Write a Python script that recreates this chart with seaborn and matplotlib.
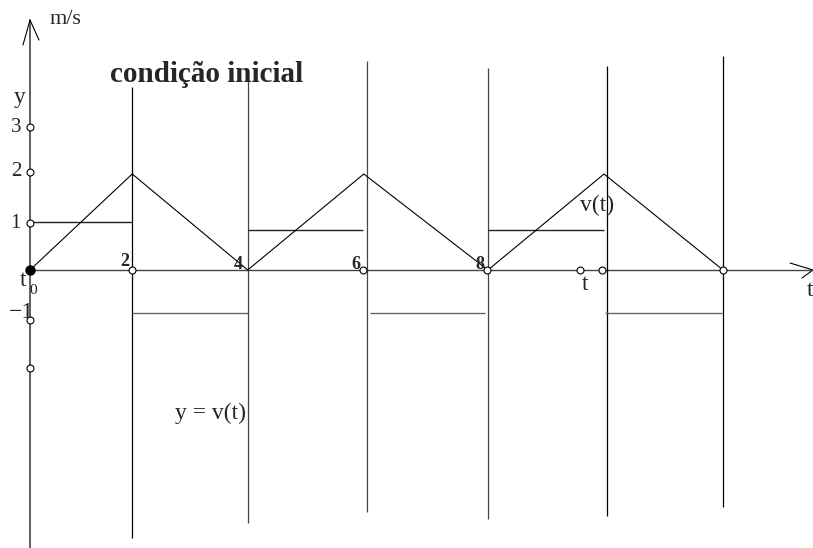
import matplotlib
matplotlib.use("Agg")
import matplotlib.pyplot as plt
import seaborn as sns
import pandas as pd
import numpy as np

# ---- data (t in s, values in m/s) ----
tri_t = [0.0, 1.77, 3.77, 5.78, 7.93, 9.94, 12.0]
tri_v = [0.0, 2.0, 0.0, 2.0, 0.0, 2.0, 0.0]

sq_start = [0.0, 1.77, 3.77, 5.89, 7.93, 9.96]
sq_end = [1.77, 3.77, 5.77, 7.88, 9.94, 11.98]
sq_level = [1.0, -0.9, 0.83, -0.9, 0.83, -0.9]

vl_t = [1.77, 3.77, 5.84, 7.93, 9.99, 12.0]
vl_top = [3.81, 3.96, 4.35, 4.21, 4.25, 4.46]
vl_bottom = [-5.58, -5.27, -5.04, -5.19, -5.13, -4.94]

ytick_vals = [2.98, 2.04, 0.98, -1.04, -2.04]
ytick_labels = ["3", "2", "1", "\u22121", ""]
ttick_vals = [1.77, 5.77, 7.91, 9.52, 9.90, 12.0]
t_labels = ["2", "4", "6", "8"]

# ---- figure ----
sns.set_theme(style="white")
plt.rcParams["font.family"] = ["Liberation Serif", "DejaVu Serif"]

W, H = 813, 548
fig = plt.figure(figsize=(W / 100, H / 100), dpi=100)
ax = fig.add_axes([0, 0, 1, 1])
ax.set_axis_off()
xs, ys = 57.75, 48.0  # px per unit
ax.set_xlim(-30 / xs, (W - 30) / xs)
ax.set_ylim(-(H - 270) / ys, 270 / ys)

def P(px, py):
    return (px - 30) / xs, (270 - py) / ys

axc = "#444444"
lw = 0.8
# axes
x0, y0 = P(30, 548); x1, y1 = P(30, 20)
ax.plot([x0, x1], [y0, y1], color=axc, lw=1.2)
a1 = P(23, 45); a2 = P(39, 40)
ax.plot([a1[0], x1, a2[0]], [a1[1], y1, a2[1]], color="black", lw=lw)
ax.plot([0, P(810, 0)[0]], [0, 0], color=axc, lw=1.0)
b0 = P(790, 263); b1 = P(813, 270); b2 = P(802, 278)
ax.plot([b0[0], b1[0], b2[0]], [b0[1], b1[1], b2[1]], color="black", lw=lw)

# vertical lines
ax.vlines(vl_t, vl_bottom, vl_top, colors=["black", "#444", "#444", "#444", "black", "black"], lw=0.9)

# square wave segments
ax.hlines(sq_level, sq_start, sq_end,
          colors=["#222" if v > 0 else "#666" for v in sq_level], lw=1.0)

# triangle wave
df = pd.DataFrame({"t": tri_t, "v": tri_v})
sns.lineplot(data=df, x="t", y="v", sort=False, estimator=None, color="black", lw=0.8, ax=ax)

# markers
ax.plot([0] * len(ytick_vals), ytick_vals, "o", ms=5, mfc="white", mec="black", mew=0.8)
ax.plot(ttick_vals, [0] * len(ttick_vals), "o", ms=5, mfc="white", mec="black", mew=0.8)
ax.plot([0], [0], "o", ms=6.5, color="black")

def T(px, py, s, **kw):
    fig.text(px / W, 1 - py / H, s, **kw)

fs = 17
T(50, 19, "m/s", fontsize=16, va="center", ha="left")
T(20, 97, "y", fontsize=fs, va="center", ha="center")
for lab, py in zip(ytick_labels, [127, 172, 223, 313, 368]):
    if lab == "\u22121":
        T(34, py, lab, fontsize=fs, va="center", ha="right")
    elif lab:
        T(21, py, lab, fontsize=15, va="center", ha="right")
T(20, 280, "t", fontsize=fs, va="center", ha="left")
T(29, 290, "0", fontsize=11, va="center", ha="left")
for lab, px, py in zip(t_labels, [125, 238, 356, 480], [261, 264, 264, 264]):
    T(px, py, lab, fontsize=13, fontweight="bold", va="center", ha="center")
T(580, 205, "v(t)", fontsize=fs, va="center", ha="left")
T(585, 285, "t", fontsize=fs, va="center", ha="center")
T(810, 290, "t", fontsize=fs, va="center", ha="center")
T(175, 413, "y = v(t)", fontsize=fs, va="center", ha="left")
T(110, 74, "condição inicial", fontsize=21, fontweight="bold", va="center", ha="left")

fig.savefig("out.png", dpi=100)
